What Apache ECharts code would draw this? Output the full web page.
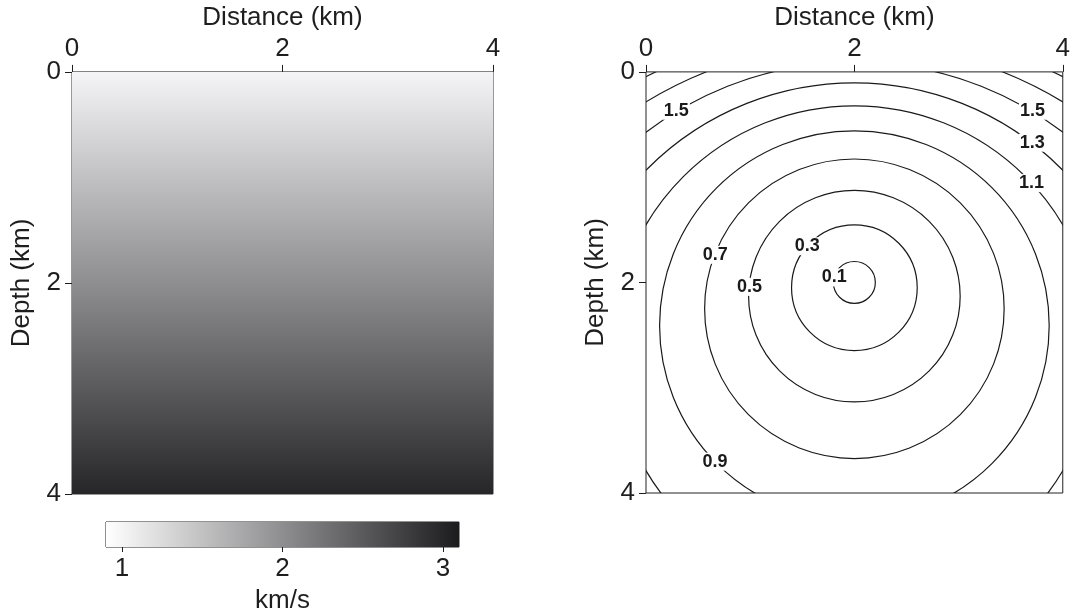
<!DOCTYPE html>
<html>
<head>
<meta charset="utf-8">
<title>Velocity model and traveltime</title>
<script src="https://cdn.jsdelivr.net/npm/echarts@6/dist/echarts.min.js"></script>
<style>
  html, body { margin: 0; padding: 0; background: #fff; }
  #chart { width: 1073px; height: 615px; }
</style>
</head>
<body>
<div id="chart"></div>
<script>
// Velocity model: v(z) sampled at depth nodes (km -> km/s)
const depthNodes = [0, 1, 2, 3, 4];
const velocityNodes = [1.0, 1.5, 2.0, 2.5, 3.0];

// Grey colour scale used by the model and its colour bar (km/s -> grey level)
const scaleVelocity = [0.9, 2.0, 3.1];
const scaleGrey = [255, 142, 28];
const colorbarTicks = [1, 2, 3];

// Traveltime contours (s) from a source at x = 2 km: circular wavefronts
const sourceX = 2;
const contourLevels = [0.1, 0.3, 0.5, 0.7, 0.9, 1.1, 1.3, 1.5, 1.7, 1.9];
const contourCenterDepth = [2.00, 2.05, 2.13, 2.25, 2.41, 2.62, 2.88, 3.18, 3.53, 3.95];
const contourRadius = [0.20, 0.60, 1.01, 1.43, 1.86, 2.31, 2.79, 3.29, 3.82, 4.40];

// Where each contour label sits along its circle (degrees, counter-clockwise from +x)
const labelPlacement = [
  { level: 0.1, angle: 166 },
  { level: 0.3, angle: 139 },
  { level: 0.5, angle: 175 },
  { level: 0.7, angle: 159 },
  { level: 0.9, angle: 224 },
  { level: 1.1, angle: 42.6 },
  { level: 1.3, angle: 52.3 },
  { level: 1.5, angle: 58.7 },
  { level: 1.5, angle: 121.3 }
];

const FONT = '"Liberation Sans", Arial, Helvetica, sans-serif';
const INK = '#1e1e1e';

function greyOf(v) {
  let g;
  if (v <= scaleVelocity[0]) g = scaleGrey[0];
  else if (v >= scaleVelocity[scaleVelocity.length - 1]) g = scaleGrey[scaleGrey.length - 1];
  else {
    for (let i = 0; i < scaleVelocity.length - 1; i++) {
      if (v >= scaleVelocity[i] && v <= scaleVelocity[i + 1]) {
        const t = (v - scaleVelocity[i]) / (scaleVelocity[i + 1] - scaleVelocity[i]);
        g = scaleGrey[i] + t * (scaleGrey[i + 1] - scaleGrey[i]);
        break;
      }
    }
  }
  g = Math.round(g);
  return 'rgb(' + g + ',' + g + ',' + (g + (g < 250 ? 2 : 0)) + ')';
}

const chart = echarts.init(document.getElementById('chart'), null, { renderer: 'canvas' });

function panelXAxis(gridIndex) {
  return {
    gridIndex, type: 'value', position: 'top', min: 0, max: 4, interval: 2,
    name: 'Distance (km)', nameLocation: 'middle', nameGap: 39,
    nameTextStyle: { fontFamily: FONT, fontSize: 26, color: INK },
    axisLine: { show: false },
    axisTick: { show: true, inside: false, length: 7, lineStyle: { color: INK, width: 1 } },
    axisLabel: { fontFamily: FONT, fontSize: 26, color: INK, margin: 10 },
    splitLine: { show: false }
  };
}
function panelYAxis(gridIndex) {
  return {
    gridIndex, type: 'value', inverse: true, min: 0, max: 4, interval: 2,
    name: 'Depth (km)', nameLocation: 'middle', nameGap: 37, nameRotate: 90,
    nameTextStyle: { fontFamily: FONT, fontSize: 26, color: INK },
    axisLine: { show: false },
    axisTick: { show: true, inside: false, length: 7, lineStyle: { color: INK, width: 1 } },
    axisLabel: { fontFamily: FONT, fontSize: 26, color: INK, margin: 11 },
    splitLine: { show: false }
  };
}

const option = {
  animation: false,
  backgroundColor: '#ffffff',
  grid: [
    { left: 72, top: 71, width: 421, height: 423, show: true, borderColor: '#333', borderWidth: 1, backgroundColor: 'transparent' },
    { left: 646, top: 71, width: 423, height: 422, show: true, borderColor: '#222', borderWidth: 1, backgroundColor: 'transparent' },
    { left: 106, top: 522, width: 353, height: 25, show: true, borderColor: '#222', borderWidth: 1, backgroundColor: 'transparent' }
  ],
  xAxis: [
    panelXAxis(0),
    panelXAxis(1),
    {
      gridIndex: 2, type: 'value', position: 'bottom', min: 0.9, max: 3.1,
      name: 'km/s', nameLocation: 'middle', nameGap: 41,
      nameTextStyle: { fontFamily: FONT, fontSize: 26, color: INK },
      axisLine: { show: false },
      axisTick: { show: true, length: 5, customValues: colorbarTicks, lineStyle: { color: INK } },
      axisLabel: { fontFamily: FONT, fontSize: 26, color: INK, margin: 9, customValues: colorbarTicks },
      splitLine: { show: false }
    }
  ],
  yAxis: [
    panelYAxis(0),
    panelYAxis(1),
    { gridIndex: 2, type: 'value', min: 0, max: 1, show: false }
  ],
  series: [
    // Velocity model, shaded through the grey scale
    {
      type: 'custom', xAxisIndex: 0, yAxisIndex: 0, silent: true, z: 1,
      data: [[0, 4]],
      renderItem: function (params, api) {
        const top = api.coord([0, depthNodes[0]]);
        const bot = api.coord([4, depthNodes[depthNodes.length - 1]]);
        const h = bot[1] - top[1];
        const stops = depthNodes.map(function (z, i) {
          return { offset: (api.coord([0, z])[1] - top[1]) / h, color: greyOf(velocityNodes[i]) };
        });
        return {
          type: 'rect',
          shape: { x: top[0], y: top[1], width: bot[0] - top[0], height: h },
          style: { fill: new echarts.graphic.LinearGradient(0, 0, 0, 1, stops) }
        };
      }
    },
    // Colour bar
    {
      type: 'custom', xAxisIndex: 2, yAxisIndex: 2, silent: true, z: 1,
      data: [[0.9, 3.1]],
      renderItem: function (params, api) {
        const a = api.coord([scaleVelocity[0], 1]);
        const b = api.coord([scaleVelocity[scaleVelocity.length - 1], 0]);
        const w = b[0] - a[0];
        const stops = scaleVelocity.map(function (v) {
          return { offset: (api.coord([v, 0])[0] - a[0]) / w, color: greyOf(v) };
        });
        return {
          type: 'rect',
          shape: { x: a[0], y: a[1], width: w, height: b[1] - a[1] },
          style: { fill: new echarts.graphic.LinearGradient(0, 0, 1, 0, stops) }
        };
      }
    },
    // Traveltime contours
    {
      type: 'custom', xAxisIndex: 1, yAxisIndex: 1, silent: true, z: 2, clip: true,
      data: contourLevels.map(function (t, i) { return [sourceX, contourCenterDepth[i], contourRadius[i], t]; }),
      renderItem: function (params, api) {
        const c = api.coord([api.value(0), api.value(1)]);
        const rx = api.size([api.value(2), 0])[0];
        const ry = api.size([0, api.value(2)])[1];
        const cs = params.coordSys;
        return {
          type: 'group',
          clipPath: { type: 'rect', shape: { x: cs.x, y: cs.y, width: cs.width, height: cs.height } },
          children: [{
            type: 'circle',
            shape: { cx: c[0], cy: c[1], r: (rx + ry) / 2 },
            style: { fill: 'none', stroke: '#1a1a1a', lineWidth: 1.2 }
          }]
        };
      }
    },
    // Contour labels
    {
      type: 'custom', xAxisIndex: 1, yAxisIndex: 1, silent: true, z: 3,
      data: labelPlacement.map(function (p) { return [p.level, p.angle]; }),
      renderItem: function (params, api) {
        const level = api.value(0);
        const ang = api.value(1) * Math.PI / 180;
        const k = contourLevels.findIndex(function (t) { return Math.abs(t - level) < 1e-6; });
        const r = contourRadius[k];
        const x = sourceX + r * Math.cos(ang);
        const z = contourCenterDepth[k] - r * Math.sin(ang);
        const p = api.coord([x, z]);
        return {
          type: 'text',
          x: p[0], y: p[1],
          style: {
            text: level.toFixed(1),
            font: 'bold 18px ' + FONT,
            fill: '#1a1a1a',
            align: 'center', verticalAlign: 'middle',
            backgroundColor: '#ffffff',
            padding: [0, 1]
          }
        };
      }
    }
  ]
};

chart.setOption(option);
</script>
</body>
</html>
